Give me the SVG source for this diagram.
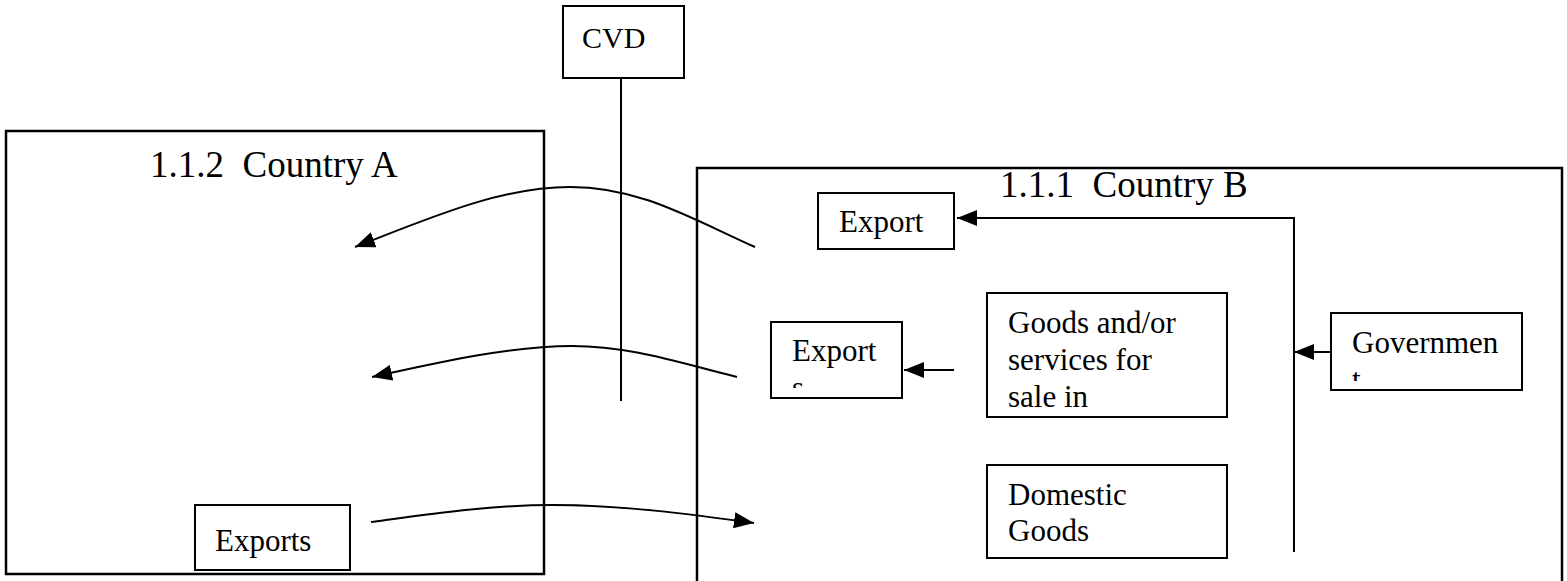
<svg xmlns="http://www.w3.org/2000/svg" width="1567" height="581" viewBox="0 0 1567 581">
<style>
.box{fill:#fff;stroke:#000;stroke-width:2}
.frame{fill:none;stroke:#000;stroke-width:2.5}
text{font-family:'Liberation Serif','Times New Roman',Times,serif;fill:#000}
.t{font-size:31px}
.title{font-size:37px}
.ln{fill:none;stroke:#000;stroke-width:2}
</style>
<defs>
<marker id="ah" markerUnits="userSpaceOnUse" markerWidth="22" markerHeight="16" refX="20" refY="8" orient="auto">
<path d="M0,0 L20,8 L0,16 Z" fill="#000"/>
</marker>
<clipPath id="c1"><rect x="771" y="322" width="131" height="66"/></clipPath>
<clipPath id="c2"><rect x="1331" y="313" width="191" height="68"/></clipPath>
</defs>
<g id="countryA">
<rect class="frame" x="6" y="131" width="538" height="443"/>
<text class="title" x="150" y="177" font-family="Liberation Serif, serif" xml:space="preserve">1.1.2  Country A</text>
</g>
<g id="countryB">
<rect class="frame" x="697" y="168" width="865" height="430"/>
<text class="title" x="1000" y="197" font-family="Liberation Serif, serif" xml:space="preserve">1.1.1  Country B</text>
</g>
<g id="cvd">
<rect class="box" x="563" y="6" width="121" height="72"/>
<text x="582" y="48" font-size="30" font-family="Liberation Serif, serif">CVD</text>
</g>
<g id="exportTop">
<rect class="box" x="818" y="193" width="136" height="56"/>
<text class="t" x="839" y="232" font-family="Liberation Serif, serif">Export</text>
</g>
<g id="exportS">
<rect class="box" x="771" y="322" width="131" height="76"/>
<g clip-path="url(#c1)">
<text class="t" x="792" y="361" font-family="Liberation Serif, serif">Export</text>
<text class="t" x="792" y="398" font-family="Liberation Serif, serif">s</text>
</g>
</g>
<g id="goods">
<rect class="box" x="987" y="293" width="240" height="124"/>
<text class="t" x="1008" y="333" font-family="Liberation Serif, serif">Goods and/or</text>
<text class="t" x="1008" y="370" font-family="Liberation Serif, serif">services for</text>
<text class="t" x="1008" y="407" font-family="Liberation Serif, serif">sale in</text>
</g>
<g id="government">
<rect class="box" x="1331" y="313" width="191" height="77"/>
<g clip-path="url(#c2)">
<text class="t" x="1352" y="353" font-family="Liberation Serif, serif">Governmen</text>
<text class="t" x="1352" y="390" font-family="Liberation Serif, serif">t</text>
</g>
</g>
<g id="domestic">
<rect class="box" x="987" y="465" width="240" height="93"/>
<text class="t" x="1008" y="505" font-family="Liberation Serif, serif">Domestic</text>
<text class="t" x="1008" y="541" font-family="Liberation Serif, serif">Goods</text>
</g>
<g id="exports">
<rect class="box" x="195" y="505" width="155" height="65"/>
<text class="t" x="215" y="551" font-family="Liberation Serif, serif">Exports</text>
</g>
<g id="connectors">
<line class="ln" x1="621" y1="78" x2="621" y2="401"/>
<path class="ln" d="M1294,552 L1294,218 L957,218" marker-end="url(#ah)"/>
<path class="ln" d="M1331,352 L1294,352" marker-end="url(#ah)"/>
<path class="ln" d="M954,370 L904,370" marker-end="url(#ah)"/>
<path class="ln" d="M755,247 C690,218 640,187 570,187 C500,187 430,218 355,247" marker-end="url(#ah)"/>
<path class="ln" d="M737,377 C680,363 630,346 572,346 C510,346 440,362 372,377" marker-end="url(#ah)"/>
<path class="ln" d="M371,522 C430,514 490,505 553,505 C620,505 690,514 754,523" marker-end="url(#ah)"/>
</g>
</svg>
